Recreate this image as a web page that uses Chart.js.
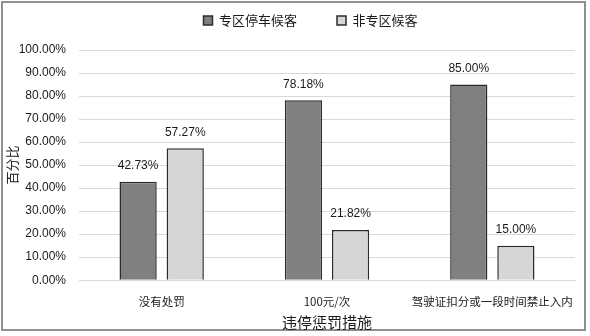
<!DOCTYPE html>
<html>
<head>
<meta charset="utf-8">
<script src="https://cdn.jsdelivr.net/npm/chart.js@4.4.0/dist/chart.umd.min.js"></script>
<style>
  html, body { margin: 0; padding: 0; background: #fff; }
  #frame {
    position: absolute; left: 1px; top: 1px;
    width: 585px; height: 330px;
    border: 2px solid #8f8f8f;
    box-sizing: border-box;
  }
  #wrap { position: absolute; left: 0; top: 0; width: 590px; height: 336px; }
</style>
</head>
<body>
<div id="frame"></div>
<div id="wrap"><canvas id="chart" width="590" height="336"></canvas></div>
<script>
  var categories = ['没有处罚', '100元/次', '驾驶证扣分或一段时间禁止入内'];
  var seriesNames = ['专区停车候客', '非专区候客'];
  var zoneValues = [42.73, 78.18, 85.00];
  var nonZoneValues = [57.27, 21.82, 15.00];
  var yTicks = [0, 10, 20, 30, 40, 50, 60, 70, 80, 90, 100];

  var latinFont = '"Liberation Sans", "Noto Sans CJK SC", sans-serif';
  var cjkFont = '"Noto Sans CJK SC", sans-serif';

  // labels above each bar
  var barLabels = {
    id: 'barLabels',
    afterDatasetsDraw: function(chart) {
      var ctx = chart.ctx;
      ctx.save();
      ctx.font = '12px ' + latinFont;
      ctx.fillStyle = '#1a1a1a';
      ctx.textAlign = 'center';
      ctx.textBaseline = 'middle';
      chart.data.datasets.forEach(function(ds, i) {
        var meta = chart.getDatasetMeta(i);
        meta.data.forEach(function(bar, j) {
          ctx.fillText(ds.data[j].toFixed(2) + '%', bar.x, bar.y - 16);
        });
      });
      ctx.restore();
    }
  };

  // fixed legend band, then nudge the legend up and right
  var legendPlace = {
    id: 'legendPlace',
    beforeInit: function(chart) {
      var fit = chart.legend.fit;
      chart.legend.fit = function() {
        fit.bind(chart.legend)();
        this.height = 50;
      };
    },
    afterLayout: function(chart) {
      var lg = chart.legend;
      lg.top -= 26;
      lg.left += 21;
      lg.right += 21;
    }
  };

  new Chart(document.getElementById('chart'), {
    type: 'bar',
    data: {
      labels: categories,
      datasets: [{
        label: seriesNames[0],
        data: zoneValues,
        backgroundColor: '#808080',
        borderColor: '#2b2b2b',
        borderWidth: 1.5
      }, {
        label: seriesNames[1],
        data: nonZoneValues,
        backgroundColor: '#d6d6d6',
        borderColor: '#2b2b2b',
        borderWidth: 1.5
      }]
    },
    options: {
      responsive: false,
      animation: false,
      layout: { padding: { left: 4, right: 15, top: 0, bottom: 5 } },
      datasets: { bar: { categoryPercentage: 0.57, barPercentage: 0.79 } },
      plugins: {
        legend: {
          position: 'top',
          labels: {
            boxWidth: 9,
            boxHeight: 9,
            padding: 40,
            color: '#1a1a1a',
            font: { family: cjkFont, size: 13 }
          }
        },
        tooltip: { enabled: false }
      },
      scales: {
        x: {
          grid: { display: false },
          border: { color: '#d9d9d9' },
          ticks: {
            color: '#1a1a1a',
            padding: 7,
            autoSkip: false,
            maxRotation: 0,
            minRotation: 0,
            font: { family: cjkFont, size: 11.5 }
          },
          title: {
            display: true,
            text: '违停惩罚措施',
            color: '#1a1a1a',
            padding: { top: -3, bottom: 0 },
            font: { family: cjkFont, size: 15 }
          }
        },
        y: {
          min: 0,
          max: 100,
          afterBuildTicks: function(scale) {
            scale.ticks = yTicks.map(function(v) { return { value: v }; });
          },
          afterFit: function(scale) { scale.width = 75; },
          grid: { color: '#d9d9d9', drawTicks: false },
          border: { display: false },
          ticks: {
            color: '#1a1a1a',
            padding: 13,
            font: { family: latinFont, size: 12 },
            callback: function(v) { return v.toFixed(2) + '%'; }
          },
          title: {
            display: true,
            text: '百分比',
            color: '#1a1a1a',
            padding: { top: 0, bottom: 0 },
            font: { family: cjkFont, size: 13 }
          }
        }
      }
    },
    plugins: [barLabels, legendPlace]
  });
</script>
</body>
</html>
